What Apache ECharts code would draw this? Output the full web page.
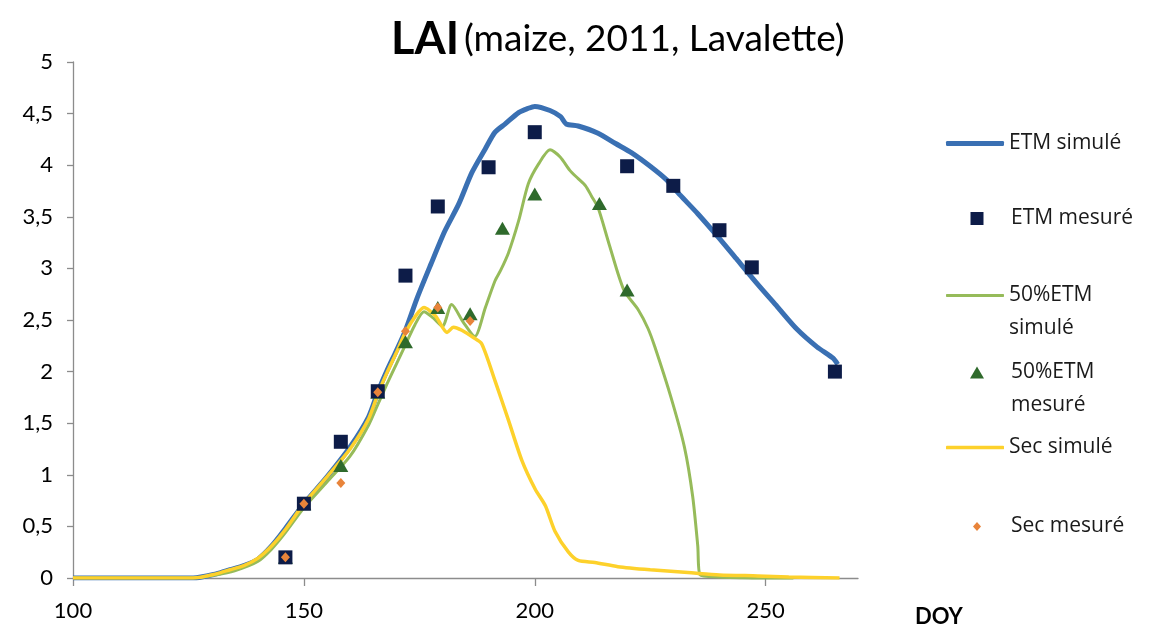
<!DOCTYPE html>
<html>
<head>
<meta charset="utf-8">
<script src="https://cdn.jsdelivr.net/npm/echarts@6/dist/echarts.min.js"></script>
<style>
html,body{margin:0;padding:0;background:#ffffff;}
#chart{width:1155px;height:628px;}
</style>
</head>
<body>
<div id="chart"></div>
<script>
// ---- tick labels ----
const xTicks = [100, 150, 200, 250];
const yTicks = [0, 0.5, 1, 1.5, 2, 2.5, 3, 3.5, 4, 4.5, 5];

// ---- series names ----
const seriesNames = ['ETM simulé', 'ETM mesuré', '50%ETM simulé', '50%ETM mesuré', 'Sec simulé', 'Sec mesuré'];

// ---- ETM simulé (DOY, LAI) ----
const etmSimDoy = [100, 110, 120, 126, 131, 134, 137, 140, 143, 146, 150, 155, 160, 164, 166, 168, 170, 172, 174.5, 177.5, 180.5, 183.5, 186.4, 189.3, 191.4, 193.6, 196.5, 198.5, 200, 203.3, 205.6, 206.8, 209.4, 213.7, 217.5, 221, 225, 228.5, 231.5, 235.3, 239.6, 243.9, 248.2, 252.5, 256.8, 261.1, 264.6, 265.6];
const etmSimLai = [0, 0, 0, 0, 0.04, 0.08, 0.12, 0.18, 0.31, 0.48, 0.72, 0.98, 1.27, 1.56, 1.80, 2.01, 2.20, 2.40, 2.71, 3.04, 3.36, 3.62, 3.93, 4.16, 4.32, 4.40, 4.51, 4.55, 4.57, 4.53, 4.47, 4.40, 4.38, 4.31, 4.21, 4.12, 3.99, 3.86, 3.71, 3.53, 3.31, 3.08, 2.85, 2.63, 2.41, 2.24, 2.13, 2.07];

// ---- ETM mesuré ----
const etmMesDoy = [146, 150, 158, 166, 172, 179, 190, 200, 220, 230, 240, 247, 265];
const etmMesLai = [0.2, 0.72, 1.32, 1.81, 2.93, 3.60, 3.98, 4.32, 3.99, 3.80, 3.37, 3.01, 2.00];

// ---- 50%ETM simulé ----
const halfSimDoy = [100, 110, 120, 126, 131, 135, 140, 143, 146, 150, 155, 160, 164, 166, 168, 170, 172, 174, 176, 178, 180, 182, 184.5, 187, 189.3, 191.4, 192.6, 194.3, 196.5, 198.6, 200.8, 203.3, 205.5, 207.6, 209.4, 211, 212.3, 213.7, 216.2, 219.3, 222.4, 224.5, 226, 229.5, 232.4, 234.2, 235.3, 235.8, 240, 245, 250, 256];
const halfSimLai = [0, 0, 0, 0, 0.03, 0.07, 0.16, 0.28, 0.44, 0.68, 0.93, 1.18, 1.48, 1.68, 1.88, 2.07, 2.26, 2.45, 2.58, 2.52, 2.44, 2.65, 2.48, 2.34, 2.62, 2.88, 2.98, 3.15, 3.46, 3.82, 4.01, 4.15, 4.08, 3.95, 3.87, 3.80, 3.70, 3.59, 3.22, 2.79, 2.60, 2.42, 2.24, 1.75, 1.27, 0.79, 0.31, 0.03, 0.01, 0, -0.01, -0.01];

// ---- 50%ETM mesuré ----
const halfMesDoy = [146, 150, 158, 166, 172, 179, 186, 193, 200, 214, 220];
const halfMesLai = [0.2, 0.72, 1.09, 1.80, 2.29, 2.62, 2.56, 3.39, 3.72, 3.63, 2.79];

// ---- Sec simulé ----
const secSimDoy = [100, 110, 120, 126, 131, 134, 137, 140, 143, 146, 150, 155, 160, 164, 166, 168, 170, 172, 174.2, 176, 178.5, 181, 182.4, 184.2, 186.7, 188.5, 191.4, 194.3, 197.2, 200.1, 202.3, 204.4, 207.3, 209.4, 213, 218, 225, 233.9, 240, 248.3, 255, 266];
const secSimLai = [0, 0, 0, 0, 0.04, 0.08, 0.12, 0.19, 0.31, 0.47, 0.72, 0.98, 1.25, 1.54, 1.78, 1.99, 2.18, 2.38, 2.54, 2.62, 2.54, 2.38, 2.43, 2.40, 2.33, 2.27, 1.91, 1.53, 1.14, 0.86, 0.70, 0.45, 0.25, 0.17, 0.15, 0.11, 0.08, 0.05, 0.03, 0.02, 0.01, 0];

// ---- Sec mesuré ----
const secMesDoy = [146, 150, 158, 166, 172, 179, 186];
const secMesLai = [0.2, 0.72, 0.92, 1.80, 2.39, 2.62, 2.49];

const pairs = (xs, ys) => xs.map((x, i) => [x, ys[i]]);

const FONT = 'Lato, "Open Sans", sans-serif';
const LEGEND_FONT = '"Open Sans", "Noto Sans", sans-serif';

const COLORS = {
  etmSim: '#3a70b3', etmMes: '#0d1c48',
  halfSim: '#96bb5a', halfMes: '#2f6a2c',
  secSim: '#fdd12b', secMes: '#e8843a'
};

const chart = echarts.init(document.getElementById('chart'), null, {renderer: 'canvas'});

const baseText = {fontFamily: LEGEND_FONT, fontSize: 21, color: '#1a1a1a', lineHeight: 33};

function lineLegend(name, top, color, h, formatter) {
  const lg = {
    data: [name], left: 946, top: top, orient: 'vertical', padding: 0,
    icon: 'roundRect', itemWidth: 58, itemHeight: h,
    itemStyle: {color: color, borderWidth: 0}, lineStyle: {width: 0},
    selectedMode: false, textStyle: Object.assign({}, baseText, {padding: [0, 0, 0, 0]})
  };
  if (formatter) lg.formatter = formatter;
  return lg;
}
function markLegend(name, top, icon, w, h, color, formatter) {
  const lg = {
    data: [name], left: 977 - w / 2, top: top, orient: 'vertical', padding: 0,
    icon: icon, itemWidth: w, itemHeight: h,
    itemStyle: {color: color, opacity: 1, borderWidth: 0},
    selectedMode: false,
    textStyle: Object.assign({}, baseText, {padding: [0, 0, 0, 1011 - (977 + w / 2) - 5]})
  };
  if (formatter) lg.formatter = formatter;
  return lg;
}

const option = {
  animation: false,
  backgroundColor: '#ffffff',
  title: {
    text: '{b|LAI} {n|(maize, 2011, Lavalette)}',
    left: 386,
    top: 12,
    textStyle: {
      rich: {
        b: {fontFamily: FONT, fontSize: 45, fontWeight: 'bold', color: '#000'},
        n: {fontFamily: FONT, fontSize: 37, fontWeight: 'normal', color: '#000'}
      }
    }
  },
  legend: [
    lineLegend(seriesNames[0], 127, COLORS.etmSim, 5),
    markLegend(seriesNames[1], 202, 'rect', 13, 13, COLORS.etmMes),
    lineLegend(seriesNames[2], 246, COLORS.halfSim, 3, () => ' \n50%ETM\nsimulé'),
    markLegend(seriesNames[3], 323, 'triangle', 14, 12, COLORS.halfMes, () => ' \n50%ETM\nmesuré'),
    lineLegend(seriesNames[4], 431, COLORS.secSim, 3.5),
    markLegend(seriesNames[5], 510, 'diamond', 8, 9, COLORS.secMes)
  ],
  grid: {left: 73, right: 297, top: 62, bottom: 49, containLabel: false},
  xAxis: {
    type: 'value',
    min: 100,
    max: 270,
    interval: 50,
    name: 'DOY',
    nameLocation: 'end',
    nameGap: 57,
    nameTextStyle: {fontFamily: FONT, fontSize: 22, fontWeight: 'bold', color: '#000', verticalAlign: 'top', padding: [28, 0, 0, 0]},
    splitLine: {show: false},
    axisLine: {show: true, onZero: false, lineStyle: {color: '#8c8c8c', width: 1.3}},
    axisTick: {show: true, inside: false, length: 8, lineStyle: {color: '#8c8c8c', width: 1.3}, customValues: xTicks},
    axisLabel: {fontFamily: FONT, fontSize: 22, color: '#000', margin: 22, customValues: xTicks}
  },
  yAxis: {
    type: 'value',
    min: 0,
    max: 5,
    interval: 0.5,
    splitLine: {show: false},
    axisLine: {show: true, lineStyle: {color: '#8c8c8c', width: 1.3}},
    axisTick: {show: true, inside: false, length: 6, lineStyle: {color: '#8c8c8c', width: 1.3}, customValues: yTicks},
    axisLabel: {fontFamily: FONT, fontSize: 22, color: '#000', margin: 20, customValues: yTicks,
      formatter: v => String(v).replace('.', ',')}
  },
  series: [
    {
      name: seriesNames[0], type: 'line', data: pairs(etmSimDoy, etmSimLai),
      symbol: 'none', smooth: 0.25, z: 2, color: COLORS.etmSim,
      lineStyle: {color: COLORS.etmSim, width: 5}
    },
    {
      name: seriesNames[1], type: 'scatter', data: pairs(etmMesDoy, etmMesLai),
      symbol: 'rect', symbolSize: 14, z: 4,
      itemStyle: {color: COLORS.etmMes, opacity: 1}
    },
    {
      name: seriesNames[2], type: 'line', data: pairs(halfSimDoy, halfSimLai),
      symbol: 'none', smooth: 0.25, z: 2, color: COLORS.halfSim,
      lineStyle: {color: COLORS.halfSim, width: 3}
    },
    {
      name: seriesNames[3], type: 'scatter', data: pairs(halfMesDoy, halfMesLai),
      symbol: 'triangle', symbolSize: [15, 13], z: 3,
      itemStyle: {color: COLORS.halfMes, opacity: 1}
    },
    {
      name: seriesNames[4], type: 'line', data: pairs(secSimDoy, secSimLai),
      symbol: 'none', smooth: 0.25, z: 2, color: COLORS.secSim,
      lineStyle: {color: COLORS.secSim, width: 3.5}
    },
    {
      name: seriesNames[5], type: 'scatter', data: pairs(secMesDoy, secMesLai),
      symbol: 'diamond', symbolSize: [9, 10], z: 5,
      itemStyle: {color: COLORS.secMes, opacity: 1}
    }
  ]
};

chart.setOption(option);
</script>
</body>
</html>
